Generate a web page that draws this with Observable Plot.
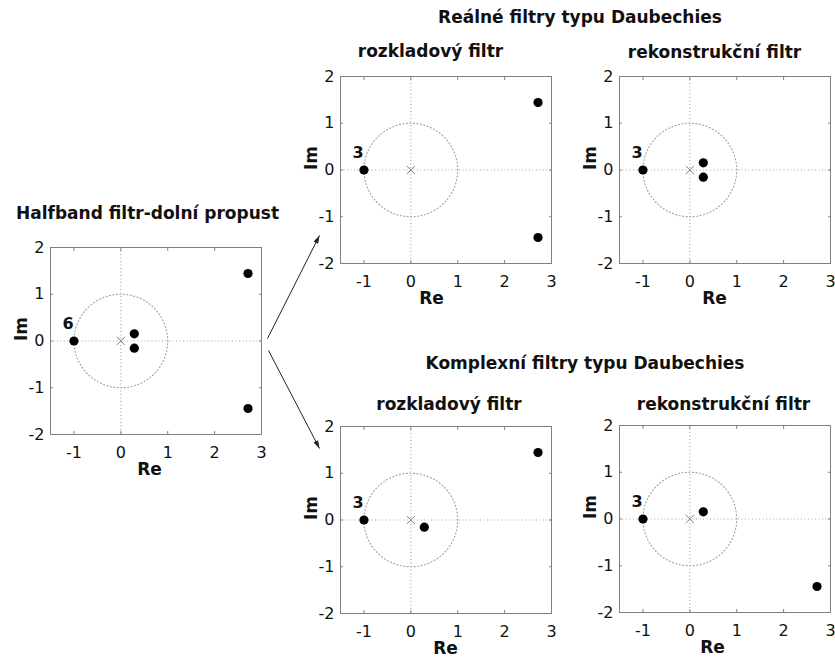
<!DOCTYPE html>
<html><head><meta charset="utf-8">
<script src="https://cdn.jsdelivr.net/npm/d3@7"></script>
<script src="https://cdn.jsdelivr.net/npm/@observablehq/plot@0.6"></script>
<style>
body{margin:0;background:#fff}
#fig{position:relative;width:835px;height:661px;background:#fff;overflow:hidden}
.t{position:absolute;font-family:"DejaVu Sans";font-weight:bold;font-size:17px;line-height:17px;white-space:nowrap;transform:translateX(-50%);color:#111}
.p{position:absolute}
</style></head><body><div id="fig"></div>
<script>
// ---- data ----
const xTicks = [-1, 0, 1, 2, 3];
const yTicks = [-2, -1, 0, 1, 2];
const halfbandRe = [-1, 0.2873, 0.2873, 2.7127, 2.7127];
const halfbandIm = [0, 0.1529, -0.1529, 1.4439, -1.4439];
const realAnalysisRe = [-1, 2.7127, 2.7127];
const realAnalysisIm = [0, 1.4439, -1.4439];
const realSynthesisRe = [-1, 0.2873, 0.2873];
const realSynthesisIm = [0, 0.1529, -0.1529];
const complexAnalysisRe = [-1, 0.2873, 2.7127];
const complexAnalysisIm = [0, -0.1529, 1.4439];
const complexSynthesisRe = [-1, 0.2873, 2.7127];
const complexSynthesisIm = [0, 0.1529, -1.4439];
const multiplicity = [6, 3, 3, 3, 3];           // multiplicity of the zero at z = -1
const poleRe = [0], poleIm = [0];
const panelTitles = ["Halfband filtr-dolní propust", "rozkladový filtr", "rekonstrukční filtr", "rozkladový filtr", "rekonstrukční filtr"];
const groupTitles = ["Reálné filtry typu Daubechies", "Komplexní filtry typu Daubechies"];
const axisLabels = ["Re", "Im"];
// arrows between panels (figure pixel units)
const arrowX1 = [267, 268], arrowY1 = [338, 350];
const arrowX2 = [319, 319], arrowY2 = [235, 448];

// ---- layout ----
const BOXW = 211, BOXH = 187, ML = 50, MR = 5, MT = 15, MB = 50;
const layout = [
  {re: halfbandRe, im: halfbandIm, box: [50, 247], tx: 147.5, ty: 219, reX: 149},
  {re: realAnalysisRe, im: realAnalysisIm, box: [340, 76], tx: 430.5, ty: 57, reX: 431},
  {re: realSynthesisRe, im: realSynthesisIm, box: [619, 76], tx: 714.5, ty: 58, reX: 714},
  {re: complexAnalysisRe, im: complexAnalysisIm, box: [340, 426], tx: 449, ty: 410, reX: 445},
  {re: complexSynthesisRe, im: complexSynthesisIm, box: [619, 425], tx: 723.5, ty: 410, reX: 712}
];
const groupLayout = [{tx: 580, ty: 23}, {tx: 585, ty: 369}];

const fig = document.getElementById("fig");
const grey = "#808080", dotGrey = "#a6a6a6";
const circle = d3.range(0, 361, 2).map(a => ({re: Math.cos(a * Math.PI / 180), im: Math.sin(a * Math.PI / 180)}));
const poles = poleRe.map((re, i) => ({re, im: poleIm[i]}));
const fmt = d => String(d);

function title(text, x, baseline) {
  const d = document.createElement("div");
  d.className = "t";
  d.textContent = text;
  d.style.left = x + "px";
  d.style.top = (baseline - 14.4) + "px";
  fig.appendChild(d);
}

layout.forEach((p, k) => {
  const zeros = p.re.map((re, i) => ({re, im: p.im[i]}));
  const multi = zeros.filter(z => z.re === -1 && z.im === 0);
  const boxCx = p.box[0] + BOXW / 2;
  const chart = Plot.plot({
    width: ML + BOXW + MR, height: MT + BOXH + MB,
    marginLeft: ML, marginRight: MR, marginTop: MT, marginBottom: MB,
    x: {domain: [-1.5, 3], label: null},
    y: {domain: [-2, 2], label: null},
    style: {fontFamily: "DejaVu Sans", fontSize: "16px", color: "#000", background: "transparent", overflow: "visible"},
    marks: [
      Plot.ruleY([0], {stroke: dotGrey, strokeDasharray: "1,2.5", strokeWidth: 1.2}),
      Plot.ruleX([0], {stroke: dotGrey, strokeDasharray: "1,2.5", strokeWidth: 1.2}),
      Plot.line(circle, {x: "re", y: "im", stroke: dotGrey, strokeDasharray: "1,2.5", strokeWidth: 1.2}),
      Plot.dot(poles, {x: "re", y: "im", symbol: "times", r: 3.8, stroke: grey, strokeWidth: 1}),
      Plot.dot(zeros, {x: "re", y: "im", r: 4.6, fill: "#000"}),
      Plot.text(multi, {x: "re", y: "im", text: () => String(multiplicity[k]), dx: -6, dy: -17, fontWeight: "bold", fontSize: 16, fill: "#111"}),
      Plot.frame({stroke: grey}),
      Plot.axisX(xTicks, {anchor: "bottom", tickSize: -3, tickPadding: 15, stroke: grey, fill: "#111", tickFormat: fmt, label: null}),
      Plot.axisX(xTicks, {anchor: "top", tickSize: -3, stroke: grey, tickFormat: () => "", label: null}),
      Plot.axisY(yTicks, {anchor: "left", tickSize: -3, tickPadding: 9, stroke: grey, fill: "#111", tickFormat: fmt, label: null}),
      Plot.axisY(yTicks, {anchor: "right", tickSize: -3, stroke: grey, tickFormat: () => "", label: null}),
      Plot.text([axisLabels[0]], {text: d => d, frameAnchor: "bottom", dx: p.reX - boxCx, dy: 35, fontWeight: "bold", fontSize: 17, lineAnchor: "middle", fill: "#111"}),
      Plot.text([axisLabels[1]], {text: d => d, frameAnchor: "left", dx: -29, rotate: -90, fontWeight: "bold", fontSize: 17, lineAnchor: "middle", fill: "#111"})
    ]
  });
  chart.classList.add("p");
  chart.style.left = (p.box[0] - ML) + "px";
  chart.style.top = (p.box[1] - MT) + "px";
  fig.appendChild(chart);
  title(panelTitles[k], p.tx, p.ty);
});
groupTitles.forEach((t, i) => title(t, groupLayout[i].tx, groupLayout[i].ty));

// arrows overlay
const arrowHead = {draw(ctx, size) { const L = Math.sqrt(size), w = 0.32 * L; ctx.moveTo(0, 0); ctx.lineTo(-w, L); ctx.lineTo(w, L); ctx.closePath(); }};
const arrows = arrowX1.map((x1, i) => ({x1, y1: arrowY1[i], x2: arrowX2[i], y2: arrowY2[i]}));
const overlay = Plot.plot({
  width: 835, height: 661, margin: 0,
  x: {domain: [0, 835], range: [0, 835], axis: null},
  y: {domain: [0, 661], range: [0, 661], axis: null},
  style: {background: "transparent"},
  marks: [
    Plot.link(arrows, {x1: "x1", y1: "y1", x2: "x2", y2: "y2", stroke: "#222", strokeWidth: 1}),
    Plot.dot(arrows, {x: "x2", y: "y2", symbol: arrowHead, r: 4.5, fill: "#222", stroke: "none",
      rotate: d => Math.atan2(d.x2 - d.x1, -(d.y2 - d.y1)) * 180 / Math.PI})
  ]
});
overlay.classList.add("p");
overlay.style.left = "0px"; overlay.style.top = "0px"; overlay.style.pointerEvents = "none";
fig.appendChild(overlay);
</script></body></html>
